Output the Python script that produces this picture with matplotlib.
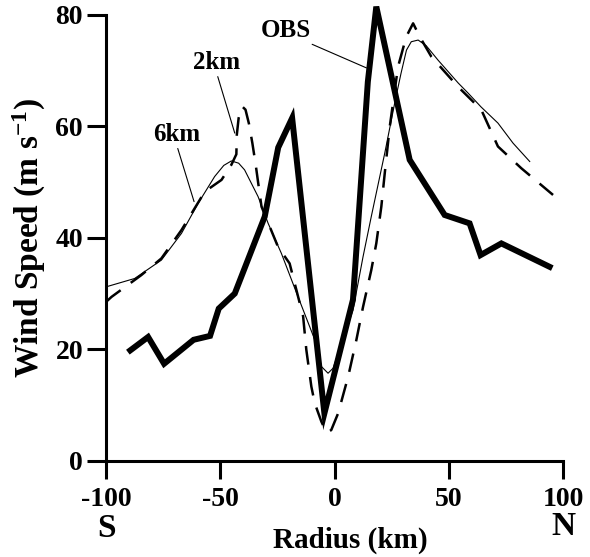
import matplotlib
matplotlib.use("Agg")
import matplotlib.pyplot as plt
import matplotlib.transforms as mtransforms

plt.rcParams["font.family"] = ["Liberation Serif", "DejaVu Serif"]
plt.rcParams["font.weight"] = "bold"
plt.rcParams["axes.unicode_minus"] = False
plt.rcParams["mathtext.default"] = "regular"

# observed profile (thick line)
obs_r = [-89.4, -81.6, -74.6, -61.7, -54.5, -50.7, -43.7, -30.6, -24.7, -18.6,
         -4.5, 8.0, 14.5, 18.2, 32.8, 48.1, 59.0, 63.8, 72.9, 94.0]
obs_v = [19.8, 22.2, 17.4, 21.7, 22.4, 27.3, 30.0, 43.8, 56.2, 61.5,
         8.5, 28.9, 68.0, 81.5, 54.0, 44.1, 42.6, 36.9, 39.0, 34.8]

# 6 km run (thin line)
km6_r = [-100, -87.5, -75.8, -67.0, -59.7, -52.5, -48.5, -45.2, -42.0, -39.4,
         -33.5, -29.1, -23.3, -16.0, -8.7, -5.8, -2.9, -0.7, 4.0, 8.0,
         12.4, 16.0, 21.9, 26.5, 29.0, 31.4, 33.5, 36.5, 40.0, 45.2,
         54.0, 58.3, 64.0, 71.4, 78.0, 85.3]
km6_v = [31.2, 32.7, 36.0, 40.8, 46.2, 51.0, 53.0, 53.8, 53.4, 52.2,
         47.4, 42.6, 37.2, 29.4, 21.7, 16.9, 15.7, 16.6, 22.2, 27.0,
         36.6, 43.8, 55.2, 64.7, 69.5, 73.7, 75.2, 75.5, 74.5, 71.9,
         67.8, 66.0, 63.5, 60.6, 57.0, 53.7]

# 2 km run (dashed line)
km2_r = [-100, -97.6, -84.6, -75.8, -67.0, -56.8, -49.5, -45.2, -43.0, -42.8,
         -42.0, -40.5, -39.0, -37.5, -36.0, -34.5, -33.5, -32.0, -24.8, -19.7,
         -13.8, -12.4, -10.2, -8.7, -5.8, -3.5, -1.5, 1.5, 5.9, 9.5,
         12.4, 16.0, 18.2, 20.4, 21.9, 24.1, 27.7, 31.3, 34.3, 37.2,
         42.3, 54.0, 64.1, 71.4, 81.6, 95.5]
km2_v = [28.5, 29.4, 33.3, 36.3, 41.4, 48.3, 50.4, 53.1, 55.0, 58.5,
         61.5, 63.6, 63.0, 60.5, 57.0, 53.0, 50.0, 45.6, 38.4, 35.4,
         25.9, 19.9, 13.3, 10.3, 7.0, 5.0, 5.5, 8.5, 15.1, 21.7,
         27.6, 34.2, 39.0, 45.6, 51.6, 60.0, 70.7, 76.1, 78.5, 76.1,
         72.5, 67.1, 63.0, 56.4, 52.5, 47.7]

x_ticks = [-100, -50, 0, 50, 100]
y_ticks = [0, 20, 40, 60, 80]

fig = plt.figure(figsize=(5.9, 5.57), dpi=100)
ax = fig.add_axes([0.1797, 0.1729, 0.7751, 0.8002])

ax.plot(km6_r, km6_v, color="black", lw=0.8, clip_on=False)
ax.plot(km2_r, km2_v, color="black", lw=1.8, dashes=(7.5, 5.0), clip_on=False)
ax.plot(obs_r, obs_v, color="black", lw=4.3, solid_joinstyle="miter", clip_on=False)

ax.set_xlim(-100, 100)
ax.set_ylim(0, 80)
ax.set_xticks(x_ticks)
ax.set_yticks(y_ticks)
ax.spines["top"].set_visible(False)
ax.spines["right"].set_visible(False)
ax.spines["left"].set_linewidth(2.2)
ax.spines["bottom"].set_linewidth(2.2)
ax.tick_params(axis="y", direction="out", length=13.5, width=2.2, pad=3, labelsize=20)
ax.tick_params(axis="x", direction="out", length=12.7, width=2.2, pad=6, labelsize=20)

ax.set_ylabel("Wind Speed (m s$^{-1}$)", fontsize=24, fontweight="bold")
ax.yaxis.set_label_coords(-0.127, 0.5)
ax.set_xlabel("Radius (km)", fontsize=21, fontweight="bold")
ax.xaxis.set_label_coords(0.534, -0.147)

trans = mtransforms.blended_transform_factory(ax.transData, ax.transAxes)
ax.text(-100, -0.153, "S", transform=trans, ha="center", va="center", fontsize=24, fontweight="bold")
ax.text(100, -0.147, "N", transform=trans, ha="center", va="center", fontsize=24, fontweight="bold")

leader = dict(arrowstyle="-", lw=0.8, color="black", shrinkA=0, shrinkB=0)
ax.annotate("OBS", xy=(13.9, 70.5), xytext=(-21.5, 77.3), ha="center", va="center",
            fontsize=18, fontweight="bold", arrowprops=dict(leader, relpos=(0.85, 0.05)))
ax.annotate("2km", xy=(-43.7, 58.8), xytext=(-51.5, 71.5), ha="center", va="center",
            fontsize=18, fontweight="bold", arrowprops=dict(leader, relpos=(0.5, 0.0)))
ax.annotate("6km", xy=(-61.5, 46.5), xytext=(-69.0, 58.6), ha="center", va="center",
            fontsize=18, fontweight="bold", arrowprops=dict(leader, relpos=(0.5, 0.0)))

fig.savefig("out.png", dpi=100)
